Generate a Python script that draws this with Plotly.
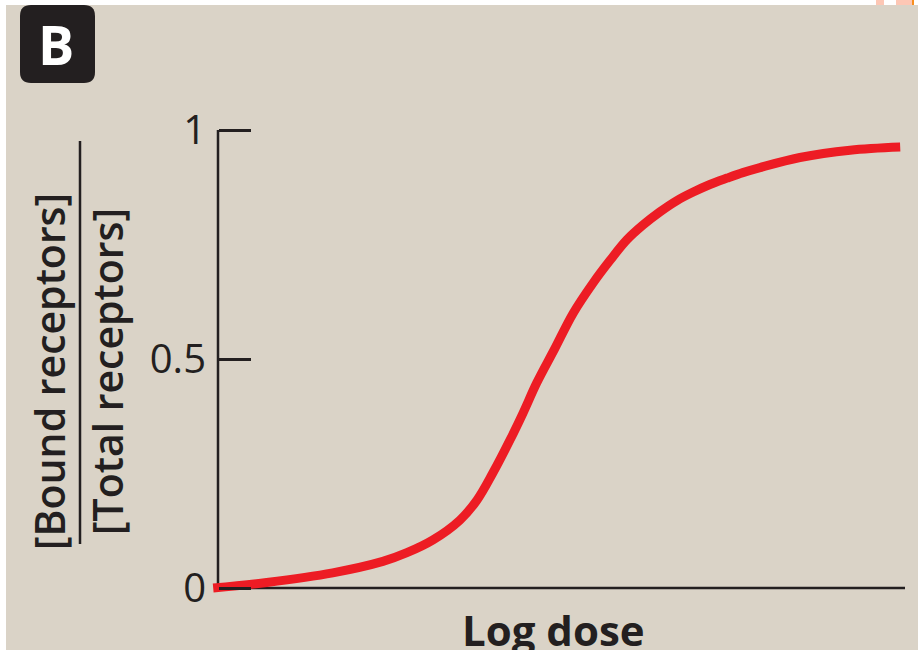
import plotly.graph_objects as go

# ---- data ----
log_dose = [-0.07, 0.71, 1.67, 2.40, 2.75, 3.13, 3.52, 3.77, 4.00, 4.25, 4.44, 4.64,
            4.90, 5.17, 5.46, 5.71, 5.95, 6.19, 6.43, 6.68, 6.91, 7.16, 7.41, 7.64,
            7.89, 8.47, 9.20, 9.93]
bound_fraction = [0.0, 0.012, 0.033, 0.058, 0.077, 0.105, 0.148, 0.192, 0.251, 0.323, 0.382, 0.448,
                  0.522, 0.600, 0.666, 0.716, 0.760, 0.793, 0.821, 0.846, 0.864, 0.881, 0.895, 0.907,
                  0.918, 0.940, 0.956, 0.963]
y_tick_vals = [0, 0.5, 1]
y_tick_text = ["0", "0.5", "1"]
x_axis_end = 10
panel_label = "B"
y_title_top = "[Bound receptors]"
y_title_bottom = "[Total receptors]"
x_title = "Log dose"

W, H = 918, 650
BG = "#dad3c7"
INK = "#231f20"
FONT = "Open Sans"


def fx(p):
    return p / W


def fy(p):
    return 1 - p / H


fig = go.Figure(
    go.Scatter(
        x=log_dose, y=bound_fraction, mode="lines",
        line=dict(color="#ed1c24", width=9, shape="spline", smoothing=1.0),
        hoverinfo="skip", showlegend=False,
    )
)

shapes = [
    # axis lines
    dict(type="line", xref="x", yref="y", x0=0, y0=0, x1=x_axis_end, y1=0,
         line=dict(color=INK, width=2.5), layer="below"),
    dict(type="line", xref="x", yref="y", x0=0, y0=0, x1=0, y1=1,
         line=dict(color=INK, width=2.5), layer="below"),
    # fraction bar of y title
    dict(type="line", xref="paper", yref="paper", x0=fx(80), x1=fx(80), y0=fy(141), y1=fy(544),
         line=dict(color=INK, width=2.5)),
    # panel label box
    dict(type="path", xref="paper", yref="paper",
         path=("M {a},{t} L {b},{t} Q {r},{t} {r},{t2} L {r},{b2} Q {r},{bo} {b},{bo} "
               "L {a},{bo} Q {l},{bo} {l},{b2} L {l},{t2} Q {l},{t} {a},{t} Z").format(
             l=fx(20), r=fx(95), a=fx(31), b=fx(84),
             t=fy(5), bo=fy(83), t2=fy(16), b2=fy(72)),
         fillcolor=INK, line=dict(width=0)),
    # white strips at top / left edge
    dict(type="rect", xref="paper", yref="paper", x0=0, x1=1, y0=fy(5), y1=1,
         fillcolor="white", line=dict(width=0)),
    dict(type="rect", xref="paper", yref="paper", x0=0, x1=fx(6), y0=0, y1=1,
         fillcolor="white", line=dict(width=0)),
    dict(type="rect", xref="paper", yref="paper", x0=fx(876), x1=fx(884), y0=fy(5), y1=1,
         fillcolor="#fdc7b5", line=dict(width=0)),
    dict(type="rect", xref="paper", yref="paper", x0=fx(896), x1=fx(912), y0=fy(5), y1=1,
         fillcolor="#fdc7b5", line=dict(width=0)),
    dict(type="rect", xref="paper", yref="paper", x0=fx(912), x1=fx(914), y0=fy(5), y1=1,
         fillcolor="#f7901e", line=dict(width=0)),
]

annotations = [
    dict(text=panel_label, xref="paper", yref="paper", x=fx(56), y=fy(44),
         showarrow=False, font=dict(family=FONT, size=54, color="white", weight="bold"),
         xanchor="center", yanchor="middle"),
    dict(text=y_title_top, xref="paper", yref="paper", x=fx(49), y=fy(372), textangle=-90,
         showarrow=False, font=dict(family=FONT, size=41, color=INK, weight=600),
         xanchor="center", yanchor="middle"),
    dict(text=y_title_bottom, xref="paper", yref="paper", x=fx(107), y=fy(372), textangle=-90,
         showarrow=False, font=dict(family=FONT, size=41, color=INK, weight=600),
         xanchor="center", yanchor="middle"),
    dict(text=x_title, xref="paper", yref="paper", x=fx(553), y=fy(629),
         showarrow=False, font=dict(family=FONT, size=42, color=INK, weight="bold"),
         xanchor="center", yanchor="middle"),
]

fig.update_layout(
    width=W, height=H,
    margin=dict(l=0, r=0, t=0, b=0, autoexpand=False),
    paper_bgcolor=BG, plot_bgcolor=BG,
    shapes=shapes, annotations=annotations,
    xaxis=dict(domain=[fx(208), fx(910)], range=[-10 / 68.7, 10 + 5 / 68.7],
               showgrid=False, zeroline=False, showline=False, showticklabels=False,
               ticks="", fixedrange=True),
    yaxis=dict(domain=[fy(595), fy(125)], range=[-7 / 458, 1 + 5 / 458],
               anchor="free", position=fx(218),
               showgrid=False, zeroline=False, showline=False,
               tickmode="array", tickvals=y_tick_vals, ticktext=y_tick_text,
               ticks="inside", ticklen=32, tickwidth=2.5, tickcolor=INK,
               ticklabelstandoff=12,
               tickfont=dict(family=FONT, size=40, color=INK), fixedrange=True),
)

fig.write_html(
    "out.html",
    config={"displayModeBar": False},
    post_script="document.body.style.margin='0';document.body.style.overflow='hidden';",
)
